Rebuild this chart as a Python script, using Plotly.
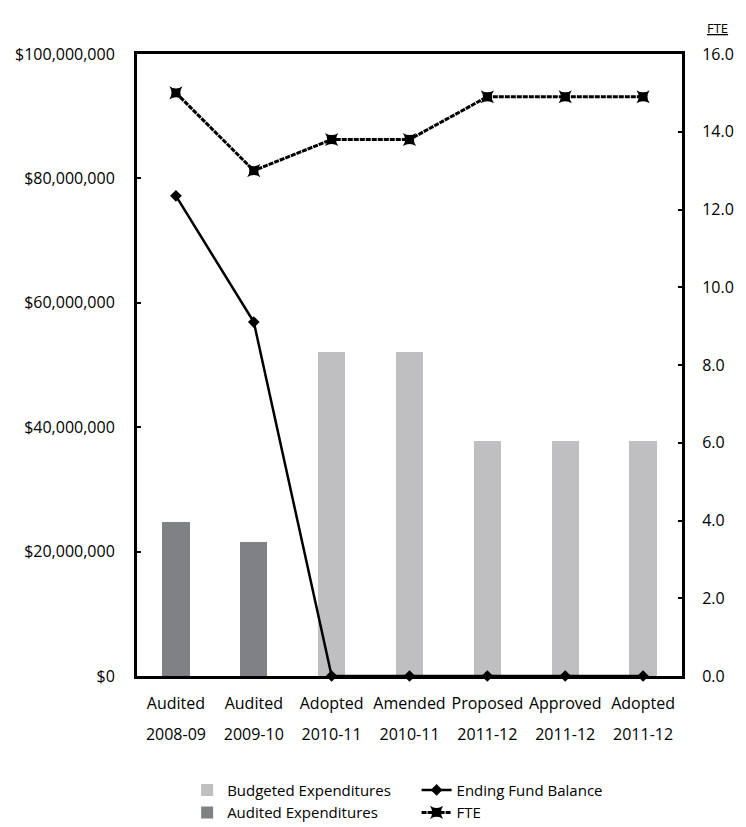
import plotly.graph_objects as go

# ---- data ----
cat_line1 = ["Audited", "Audited", "Adopted", "Amended", "Proposed", "Approved", "Adopted"]
cat_line2 = ["2008-09", "2009-10", "2010-11", "2010-11", "2011-12", "2011-12", "2011-12"]
categories = [f"{a} {b}" for a, b in zip(cat_line1, cat_line2)]

budgeted_exp = [None, None, 52.1e6, 52.1e6, 37.8e6, 37.8e6, 37.8e6]
audited_exp = [24.8e6, 21.5e6, None, None, None, None, None]
ending_fund_balance = [77.2e6, 56.9e6, 0, 0, 0, 0, 0]
fte = [15.0, 13.0, 13.8, 13.8, 14.9, 14.9, 14.9]

FONT = "Open Sans"
LIGHT = "#bfbfc1"
DARK = "#808184"

fig = go.Figure()
fig.add_trace(go.Bar(x=categories, y=budgeted_exp, name="Budgeted Expenditures",
                     marker=dict(color=LIGHT, line=dict(width=0)), width=0.35,
                     legend="legend"))
fig.add_trace(go.Bar(x=categories, y=audited_exp, name="Audited Expenditures",
                     marker=dict(color=DARK, line=dict(width=0)), width=0.35,
                     legend="legend"))
fig.add_trace(go.Scatter(x=categories, y=ending_fund_balance, name="Ending Fund Balance",
                         mode="lines+markers", line=dict(color="black", width=2.5),
                         marker=dict(symbol="diamond", size=9, color="black"),
                         cliponaxis=False, legend="legend2"))
fig.add_trace(go.Scatter(x=categories, y=fte, name="FTE", yaxis="y2",
                         mode="lines+markers",
                         line=dict(color="black", width=3, dash="5px,1px"),
                         marker=dict(symbol="star-square", size=12, color="black"),
                         cliponaxis=False, legend="legend2"))
# invisible helper trace so the second category row (years) is drawn on its own axis
fig.add_trace(go.Scatter(x=categories, y=fte, xaxis="x2", yaxis="y2", mode="markers",
                         marker=dict(opacity=0), showlegend=False, hoverinfo="skip"))

fig.update_layout(
    width=746, height=827,
    margin=dict(l=137, r=64, t=54, b=151, autoexpand=False),
    paper_bgcolor="white", plot_bgcolor="white",
    font=dict(family=FONT, size=16, color="black"),
    barmode="stack",
    xaxis=dict(type="category", categoryorder="array", categoryarray=categories,
               tickvals=categories, ticktext=cat_line1, automargin=False,
               showline=True, linewidth=3, linecolor="black", mirror=True,
               ticks="", ticklabelstandoff=11, range=[-0.5, 6.5],
               tickfont=dict(size=16), layer="below traces"),
    xaxis2=dict(type="category", overlaying="x", anchor="y", side="bottom",
                categoryorder="array", categoryarray=categories, automargin=False,
                tickvals=categories, ticktext=cat_line2,
                showline=False, ticks="", ticklabelstandoff=47, range=[-0.5, 6.5],
                tickfont=dict(size=16), showgrid=False),
    yaxis=dict(range=[0, 100e6], dtick=20e6, tickprefix="$", tickformat=",d",
               showline=True, linewidth=3, linecolor="black", automargin=False,
               ticks="inside", ticklen=4, tickwidth=2, tickcolor="black",
               showgrid=False, zeroline=False, ticklabelstandoff=16,
               tickfont=dict(size=16), layer="below traces"),
    yaxis2=dict(range=[0, 16], dtick=2, tickformat=".1f", overlaying="y", side="right",
                showline=True, linewidth=3, linecolor="black", automargin=False,
                ticks="inside", ticklen=4, tickwidth=2, tickcolor="black",
                showgrid=False, zeroline=False, ticklabelstandoff=14,
                tickfont=dict(size=16), layer="below traces"),
    legend=dict(x=0.092, y=-0.157, xanchor="left", yanchor="top",
                orientation="v", font=dict(size=15), tracegroupgap=0,
                traceorder="normal", bgcolor="rgba(0,0,0,0)"),
    legend2=dict(x=0.513, y=-0.157, xanchor="left", yanchor="top",
                 orientation="v", font=dict(size=15), tracegroupgap=0,
                 traceorder="normal", bgcolor="rgba(0,0,0,0)"),
    annotations=[dict(text="<u>FTE</u>", xref="paper", yref="paper", x=1.066, y=1.042,
                      xanchor="center", yanchor="middle", showarrow=False,
                      font=dict(size=13))],
    showlegend=True,
)

fig.write_html("out.html")
